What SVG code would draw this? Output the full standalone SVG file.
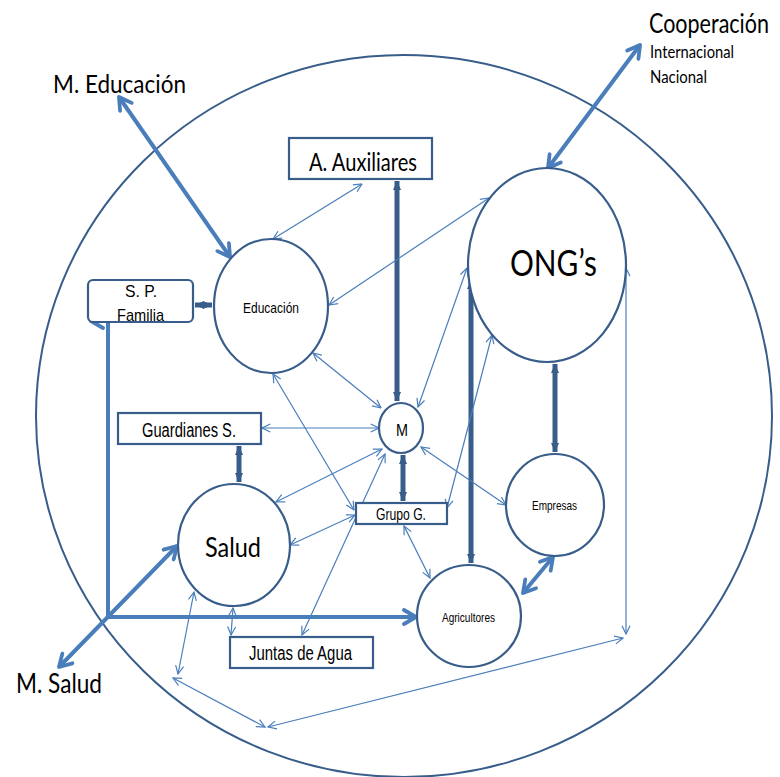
<svg xmlns="http://www.w3.org/2000/svg" width="780" height="777" viewBox="0 0 780 777">
<style>
.nd{fill:#fff;stroke:#385D8A;stroke-width:2.2}
.bd{fill:none;stroke:#385D8A;stroke-width:2}
.tn{fill:none;stroke:#4A7EBB;stroke-width:1.2;marker-start:url(#at);marker-end:url(#at)}
.tl{fill:none;stroke:#4A7EBB;stroke-width:4}
.td{fill:none;stroke:#385D8A;stroke-width:5;marker-start:url(#ad);marker-end:url(#ad)}
.c{font-family:"Lato","Open Sans",sans-serif;fill:#000}
.a{font-family:"Liberation Sans",Arial,sans-serif;fill:#000}
</style>
<defs>
<marker id="at" markerUnits="userSpaceOnUse" viewBox="0 0 10 10" markerWidth="10" markerHeight="10" refX="9.3" refY="5" orient="auto-start-reverse"><path d="M1,1 L9.3,5 L1,9" fill="none" stroke="#4A7EBB" stroke-width="1.2"/></marker>
<marker id="al" markerUnits="userSpaceOnUse" viewBox="0 0 18 18" markerWidth="18" markerHeight="18" refX="15" refY="9" orient="auto-start-reverse"><path d="M3,2 L15,9 L3,16" fill="none" stroke="#4A7EBB" stroke-width="3.8" stroke-linecap="round" stroke-linejoin="round"/></marker>
<marker id="ad" markerUnits="userSpaceOnUse" viewBox="0 0 10 10" markerWidth="9" markerHeight="9" refX="10" refY="5" orient="auto-start-reverse"><path d="M0,0.5 L10,5 L0,9.5 z" fill="#385D8A"/></marker>
</defs>
<g id="boundary"><ellipse class="bd" cx="404" cy="416" rx="368" ry="361"/></g>
<g id="connectors">
<path class="tl" d="M119,97 L230,257" marker-start="url(#al)" marker-end="url(#al)"/>
<path class="tl" d="M640,45 L548,168" marker-start="url(#al)" marker-end="url(#al)"/>
<path class="tl" d="M59,667 L177,546" marker-start="url(#al)" marker-end="url(#al)"/>
<path class="tl" d="M108,617 V321 H91" marker-end="url(#al)"/>
<path class="tl" d="M106,617 H416" marker-end="url(#al)"/>
<path class="tl" d="M553,557 L523,593" marker-start="url(#al)" marker-end="url(#al)"/>
<path class="td" d="M397,181 V401"/>
<path class="td" d="M403,455 V501"/>
<path class="td" d="M239,446 V482"/>
<path class="td" d="M195,305 H212"/>
<path class="td" d="M555,364 V452"/>
<path class="td" d="M471,563 V280"/>
<path class="tn" d="M362,184 L273,239"/>
<path class="tn" d="M489,198 L329,305"/>
<path class="tn" d="M313,353 L381,408"/>
<path class="tn" d="M273,374 L354,510"/>
<path class="tn" d="M262,428 H379"/>
<path class="tn" d="M382,449 L276,502"/>
<path class="tn" d="M385,454 L302,635"/>
<path class="tn" d="M355,515 L290,545"/>
<path class="tn" d="M404,526 L430,578"/>
<path class="tn" d="M421,447 L506,505"/>
<path class="tn" d="M467,268 L418,407"/>
<path class="tn" d="M492,335 L447,508"/>
<path class="tn" d="M626,268 V634"/>
<path class="tn" d="M623,638 L268,727"/>
<path class="tn" d="M173,678 L265,727"/>
<path class="tn" d="M194,592 L178,674"/>
<path class="tn" d="M233,608 L231,635"/>
</g>
<g id="aux"><rect class="nd" x="289" y="138" width="143" height="41"/><text class="c" x="309" y="171" font-size="24.5" textLength="108" lengthAdjust="spacingAndGlyphs">A. Auxiliares</text></g>
<g id="spfamilia"><rect class="nd" x="88" y="280" width="105" height="42" rx="5"/><text class="a" x="125" y="297" font-size="17" textLength="32" lengthAdjust="spacingAndGlyphs">S. P.</text><text class="a" x="117" y="321" font-size="17" textLength="47" lengthAdjust="spacingAndGlyphs">Familia</text></g>
<g id="guardianes"><rect class="nd" x="118" y="413" width="143" height="31"/><text class="a" x="142" y="437" font-size="20" textLength="94" lengthAdjust="spacingAndGlyphs">Guardianes S.</text></g>
<g id="grupo"><rect class="nd" x="356" y="503" width="91" height="21"/><text class="a" x="376" y="520" font-size="16" textLength="50" lengthAdjust="spacingAndGlyphs">Grupo G.</text></g>
<g id="juntas"><rect class="nd" x="230" y="637" width="143" height="31"/><text class="a" x="249" y="660" font-size="19.5" textLength="103" lengthAdjust="spacingAndGlyphs">Juntas de Agua</text></g>
<g id="educacion"><ellipse class="nd" cx="271" cy="306" rx="57" ry="67"/><text class="a" x="243" y="313" font-size="15" textLength="56" lengthAdjust="spacingAndGlyphs">Educación</text></g>
<g id="m"><ellipse class="nd" cx="401" cy="428" rx="22" ry="25"/><text class="a" x="396" y="436" font-size="16" textLength="12" lengthAdjust="spacingAndGlyphs">M</text></g>
<g id="salud"><ellipse class="nd" cx="234" cy="545" rx="56" ry="61"/><text class="c" x="205" y="557" font-size="27" textLength="56" lengthAdjust="spacingAndGlyphs">Salud</text></g>
<g id="agricultores"><ellipse class="nd" cx="469" cy="616" rx="52" ry="51"/><text class="a" x="442" y="622" font-size="13" textLength="53" lengthAdjust="spacingAndGlyphs">Agricultores</text></g>
<g id="empresas"><ellipse class="nd" cx="555" cy="505" rx="49" ry="51"/><text class="a" x="532" y="510" font-size="13" textLength="45" lengthAdjust="spacingAndGlyphs">Empresas</text></g>
<g id="ongs"><ellipse class="nd" cx="547" cy="265" rx="79" ry="97"/><text class="c" x="510" y="276" font-size="37" textLength="87" lengthAdjust="spacingAndGlyphs">ONG’s</text></g>
<g id="meducacion"><text class="c" x="53" y="93" font-size="25" textLength="133" lengthAdjust="spacingAndGlyphs">M. Educación</text></g>
<g id="cooperacion"><text class="c" transform="translate(649,33) scale(1,1.2)" x="0" y="0" font-size="22" textLength="120" lengthAdjust="spacingAndGlyphs">Cooperación</text><text class="c" x="650" y="58" font-size="17" textLength="84" lengthAdjust="spacingAndGlyphs">Internacional</text><text class="c" x="650" y="83" font-size="17" textLength="57" lengthAdjust="spacingAndGlyphs">Nacional</text></g>
<g id="msalud"><text class="c" x="16" y="693" font-size="27" textLength="86" lengthAdjust="spacingAndGlyphs">M. Salud</text></g>
</svg>
